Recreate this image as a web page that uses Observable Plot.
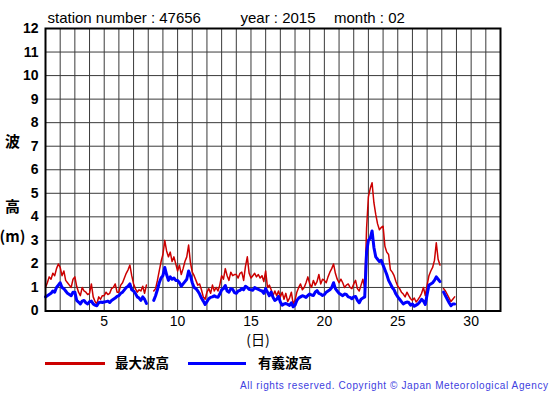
<!DOCTYPE html>
<html><head><meta charset="utf-8">
<script src="https://cdn.jsdelivr.net/npm/d3@7"></script>
<script src="https://cdn.jsdelivr.net/npm/@observablehq/plot@0.6"></script>
<style>body{margin:0;background:#fff}#chart{width:555px;height:395px}</style>
</head><body><div id="chart"></div>
<script>
// 3-hourly values, days 1..28 (8 per day); null = missing
const maxWave = [
1.0,1.2,1.45,1.35,1.6,1.5,1.8,2.0,
1.85,1.5,1.7,1.3,1.2,1.1,1.0,1.35,
1.45,1.05,0.8,0.65,1.0,0.85,0.8,0.7,
0.75,1.15,0.6,0.4,0.3,0.6,0.5,0.65,
0.65,0.8,0.7,0.75,0.95,1.0,1.15,0.8,
0.8,1.1,1.2,1.4,1.6,1.75,1.95,1.5,
1.15,0.95,0.8,0.9,0.85,1.05,0.75,1.1,
null,null,null,0.85,0.95,1.3,1.7,2.1,
2.4,3.0,2.55,2.3,2.5,2.1,2.3,2.0,
1.7,1.95,1.55,1.8,2.1,2.3,2.8,2.05,
1.65,1.5,1.3,1.1,1.15,0.9,0.6,0.5,
0.8,0.95,0.75,1.1,0.85,1.0,0.85,1.1,
1.5,1.35,1.8,1.5,1.3,1.65,1.5,1.55,
1.55,1.4,1.6,1.65,1.3,1.9,2.3,1.6,
1.4,1.5,1.6,1.45,1.55,1.4,1.5,1.25,
1.7,1.0,1.1,0.9,0.65,0.85,0.65,0.85,
0.6,0.8,0.5,0.75,0.4,0.55,0.8,0.3,
0.45,0.8,1.0,1.15,0.9,1.0,1.2,1.45,
1.15,1.0,1.3,1.1,1.25,1.55,1.15,1.35,
1.3,1.2,1.45,1.65,1.8,2.0,1.6,1.35,
1.2,1.35,1.2,1.0,1.1,1.15,1.0,0.95,
1.15,1.3,0.95,0.85,1.1,1.35,0.95,3.5,
4.85,5.2,5.45,4.6,4.1,3.7,3.45,3.55,
3.6,2.75,2.5,2.4,1.75,1.65,1.5,1.25,
1.05,0.95,0.8,0.72,0.6,0.8,0.65,0.52,
0.45,0.55,0.38,0.48,0.6,0.75,1.0,0.65,
1.1,1.5,1.7,1.85,2.15,2.9,2.2,1.95,
null,0.95,0.85,0.7,0.55,0.4,0.5,0.6
];
const sigWave = [
0.6,0.65,0.7,0.75,0.85,0.8,1.0,1.1,
1.2,1.0,0.95,0.85,0.75,0.7,0.65,0.8,
0.8,0.45,0.38,0.3,0.42,0.45,0.35,0.3,
0.4,0.42,0.3,0.25,0.22,0.35,0.38,0.36,
0.38,0.4,0.42,0.36,0.45,0.5,0.55,0.62,
0.65,0.75,0.8,0.9,1.0,1.05,1.15,0.9,
0.85,0.75,0.6,0.55,0.45,0.6,0.5,0.32,
null,null,null,0.45,0.65,0.9,1.2,1.4,
1.5,1.85,1.55,1.3,1.45,1.35,1.4,1.3,
1.3,1.2,1.05,1.15,1.25,1.35,1.7,1.5,
1.2,1.0,0.95,0.85,0.72,0.55,0.42,0.28,
0.4,0.52,0.58,0.6,0.65,0.6,0.58,0.72,
0.9,0.95,1.08,0.85,0.8,0.95,0.92,0.78,
0.75,0.85,0.88,0.95,0.9,1.05,1.0,0.92,
0.9,0.88,1.0,0.95,0.92,0.88,0.85,0.75,
0.95,0.8,0.65,0.8,0.58,0.45,0.5,0.62,
0.38,0.25,0.3,0.32,0.28,0.24,0.35,0.18,
0.25,0.45,0.55,0.6,0.65,0.62,0.58,0.66,
0.72,0.68,0.66,0.8,0.87,0.75,0.72,0.66,
0.7,0.8,0.85,0.9,1.0,1.2,0.95,0.85,
0.75,0.7,0.65,0.72,0.7,0.6,0.58,0.52,
0.6,0.62,0.45,0.35,0.5,0.55,0.6,2.5,
3.0,3.1,3.4,2.7,2.3,2.2,2.1,2.15,
1.95,1.75,1.55,1.3,1.15,1.0,0.9,0.72,
0.6,0.5,0.4,0.3,0.35,0.38,0.36,0.25,
0.3,0.2,0.25,0.3,0.38,0.5,0.42,0.28,
0.7,1.1,1.15,1.2,1.3,1.45,1.35,1.25,
null,0.8,0.65,0.5,0.35,0.22,0.3,0.3
];
const xTickLabels = [5,10,15,20,25,30];
const dayGrid = [1,2,3,4,5,6,7,8,9,10,11,12,13,14,15,16,17,18,19,20,21,22,23,24,25,26,27,28,29,30,31,32];
const yTicks = [0,1,2,3,4,5,6,7,8,9,10,11,12];
const titleParts = ["station number : 47656", "year : 2015", "month : 02"];
const seriesNames = ["最大波高", "有義波高"];
const seriesColors = ["#cc0000", "#0000ff"];

const rows = maxWave.map((v, i) => ({t: 1 + i / 8, max: v, sig: sigWave[i]}));

const plot = Plot.plot({
  width: 555, height: 395,
  marginLeft: 45, marginRight: 55, marginTop: 28, marginBottom: 84.5,
  style: {fontFamily: "'Liberation Sans', Arial, sans-serif", background: "#fff", color: "#000"},
  x: {domain: [1, 32]},
  y: {domain: [0, 12]},
  marks: [
    Plot.gridX(dayGrid, {stroke: "#3a3a3a", strokeOpacity: 1, strokeWidth: 1}),
    Plot.gridY(yTicks, {stroke: "#3a3a3a", strokeOpacity: 1, strokeWidth: 1}),
    Plot.line(rows, {x: "t", y: "max", stroke: seriesColors[0], strokeWidth: 1.5}),
    Plot.line(rows, {x: "t", y: "sig", stroke: seriesColors[1], strokeWidth: 3}),
    Plot.frame({stroke: "#000", strokeWidth: 2}),
    Plot.axisY(yTicks, {tickSize: 0, tickPadding: 7, fontSize: 14, fontWeight: "bold", label: null}),
    Plot.axisX(xTickLabels, {tickSize: 0, tickPadding: 5, fontSize: 14, label: null})
  ]
});
document.getElementById("chart").appendChild(plot);

const svg = d3.select(plot);
const cjk = "'Noto Sans CJK JP', sans-serif";
// title
[[47.5, titleParts[0]], [240.5, titleParts[1]], [334, titleParts[2]]].forEach(([x, s]) =>
  svg.append("text").attr("x", x).attr("y", 23).attr("text-anchor", "start")
    .attr("font-size", 15).attr("fill", "#000").text(s));
// y label
[["波", 142], ["高", 207], ["(m)", 237]].forEach(([s, y]) =>
  svg.append("text").attr("x", 12.5).attr("y", y).attr("dy", "0.35em").attr("text-anchor", "middle")
    .attr("font-family", cjk).attr("font-weight", "bold").attr("font-size", 15).text(s));
// x label
svg.append("text").attr("x", 258).attr("y", 340).attr("dy", "0.35em").attr("text-anchor", "middle")
  .attr("font-family", cjk).attr("font-size", 14).text("(日)");
// legend
[[45, 105, 115], [188, 246, 258]].forEach(([x1, x2, tx], i) => {
  svg.append("line").attr("x1", x1).attr("x2", x2).attr("y1", 363.5).attr("y2", 363.5)
    .attr("stroke", seriesColors[i]).attr("stroke-width", 3);
  svg.append("text").attr("x", tx).attr("y", 363.5).attr("dy", "0.35em").attr("text-anchor", "start")
    .attr("font-family", cjk).attr("font-weight", "bold").attr("font-size", 13.5).text(seriesNames[i]);
});
// copyright
svg.append("text").attr("x", 240).attr("y", 385).attr("dy", "0.35em").attr("text-anchor", "start")
  .attr("font-size", 10).attr("fill", "#4040e0").attr("textLength", 308).attr("lengthAdjust", "spacing")
  .text("All rights reserved. Copyright © Japan Meteorological Agency");
</script></body></html>
